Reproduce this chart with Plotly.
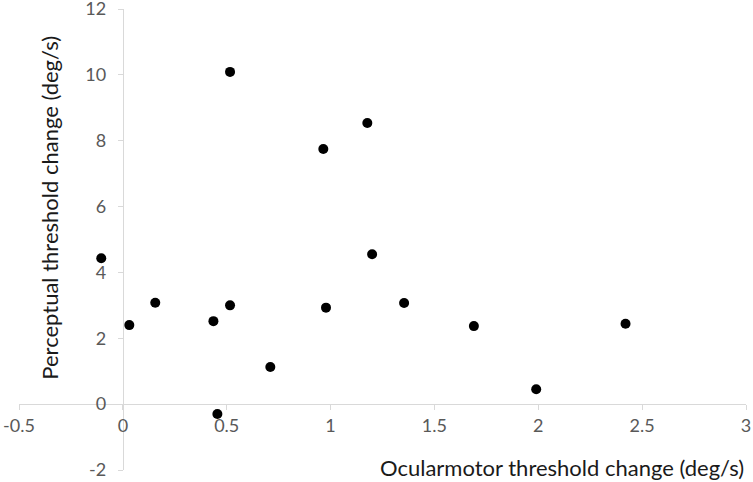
import plotly.graph_objects as go

ocular_change = [-0.104, 0.031, 0.156, 0.436, 0.455, 0.516, 0.516, 0.710, 0.965, 0.978, 1.177, 1.200, 1.354, 1.690, 1.990, 2.420]
perceptual_change = [4.43, 2.40, 3.08, 2.52, -0.30, 3.00, 10.09, 1.13, 7.75, 2.93, 8.54, 4.55, 3.07, 2.37, 0.45, 2.44]

x_range = [-0.5, 3]
y_range = [-2, 12]
x_ticks = [-0.5, 0, 0.5, 1, 1.5, 2, 2.5, 3]
x_ticklabels = ["-0.5", "0", "0.5", "1", "1.5", "2", "2.5", "3"]
y_ticks = [-2, 0, 2, 4, 6, 8, 10, 12]
y_ticklabels = ["-2", "0", "2", "4", "6", "8", "10", "12"]

x_title = "Ocularmotor threshold change (deg/s)"
y_title = "Perceptual threshold change (deg/s)"

FONT = "Lato, 'Open Sans', sans-serif"
AXIS_COLOR = "#d9d9d9"
TICK_FONT_COLOR = "#595959"
TITLE_COLOR = "#1a1a1a"

fig = go.Figure()
fig.add_trace(go.Scatter(
    x=ocular_change, y=perceptual_change, mode="markers",
    marker=dict(color="black", size=10, line=dict(width=0)),
    showlegend=False, hoverinfo="x+y", cliponaxis=False,
))

# position of the zero lines in paper fraction
x_zero_pos = (0 - y_range[0]) / (y_range[1] - y_range[0])
y_zero_pos = (0 - x_range[0]) / (x_range[1] - x_range[0])

common_axis = dict(
    showgrid=False, zeroline=False, showline=True, linecolor=AXIS_COLOR, linewidth=1,
    ticks="outside", ticklen=5, tickcolor=AXIS_COLOR, tickwidth=1,
    anchor="free", automargin=False, ticklabeloverflow="allow",
    tickfont=dict(family=FONT, size=18, color=TICK_FONT_COLOR),
)

fig.update_layout(
    width=753, height=482,
    margin=dict(l=19, r=7, t=9, b=12, autoexpand=False),
    paper_bgcolor="white", plot_bgcolor="white",
    font=dict(family=FONT, color=TICK_FONT_COLOR, size=18),
    xaxis=dict(range=x_range, tickvals=x_ticks, ticktext=x_ticklabels,
               position=x_zero_pos, **common_axis),
    yaxis=dict(range=y_range, tickvals=y_ticks, ticktext=y_ticklabels,
               position=y_zero_pos, ticklabelstandoff=8, **common_axis),
    annotations=[
        dict(text=x_title, xref="paper", yref="paper", x=1.0, y=0.0065,
             xanchor="right", yanchor="middle", showarrow=False,
             font=dict(family=FONT, size=22, color=TITLE_COLOR)),
        dict(text=y_title, xref="paper", yref="paper", x=0.0426, y=0.569,
             xanchor="center", yanchor="middle", textangle=-90, showarrow=False,
             font=dict(family=FONT, size=22, color=TITLE_COLOR)),
    ],
)

fig.write_html(
    "out.html",
    config={"displayModeBar": False},
    post_script="document.body.style.margin='0';document.body.style.overflow='hidden';",
)
